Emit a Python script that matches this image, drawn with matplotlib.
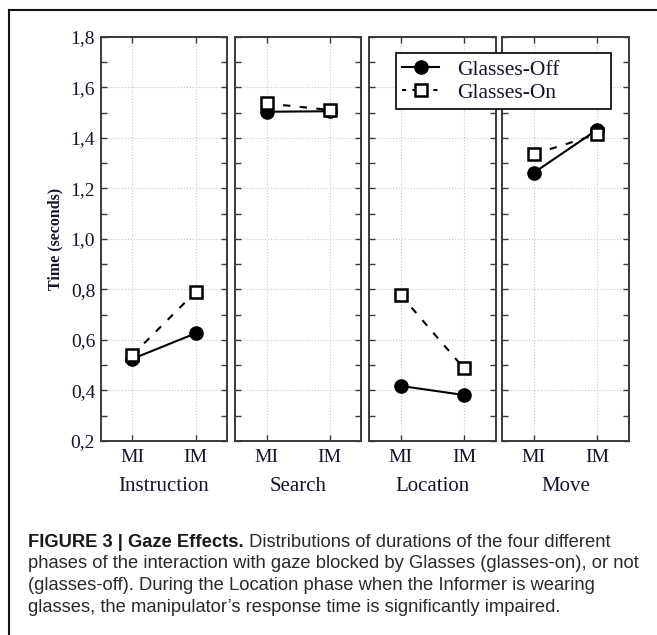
import matplotlib
matplotlib.use('Agg')
import matplotlib.pyplot as plt
from matplotlib.ticker import MultipleLocator, FuncFormatter
from matplotlib.lines import Line2D

plt.rcParams['font.family'] = 'Liberation Serif'

# data
phases = ['Instruction', 'Search', 'Location', 'Move']
conditions = ['MI', 'IM']
glasses_off = [[0.525, 0.626], [1.503, 1.505], [0.418, 0.382], [1.262, 1.432]]
glasses_on = [[0.540, 0.790], [1.536, 1.510], [0.778, 0.488], [1.335, 1.414]]
y_ticks = [0.2, 0.4, 0.6, 0.8, 1.0, 1.2, 1.4, 1.6, 1.8]
series_labels = ['Glasses-Off', 'Glasses-On']
ylabel = 'Time (seconds)'
caption_bold = 'FIGURE 3 | Gaze Effects.'
caption_lines = [
    ' Distributions of durations of the four different',
    'phases of the interaction with gaze blocked by Glasses (glasses-on), or not',
    '(glasses-off). During the Location phase when the Informer is wearing',
    'glasses, the manipulator\u2019s response time is significantly impaired.',
]

W, H = 657, 635
fig = plt.figure(figsize=(W / 100, H / 100), dpi=100)

txt_col = '#15152a'
spine_col = '#3a3a3a'

# panel geometry in pixels
lefts = [100.7, 234.9, 369.0, 502.3]
pw = 126.5
top, bottom = 36.7, 441.0

x = list(range(len(conditions)))
for i, phase in enumerate(phases):
    ax = fig.add_axes([lefts[i] / W, 1 - bottom / H, pw / W, (bottom - top) / H])
    ax.plot(x, glasses_off[i], color='black', lw=1.5, marker='o', ms=9.5,
            mfc='black', mec='black', zorder=3)
    ax.plot(x, glasses_on[i], color='black', lw=1.5, ls=(0, (3.5, 4.5)), marker='s',
            ms=8.5, mfc='white', mec='black', mew=1.8, zorder=4)
    ax.set_xlim(-0.5, 1.5)
    ax.set_ylim(0.2, 1.8)
    ax.set_xticks(x)
    ax.set_xticklabels(conditions, fontsize=14, color=txt_col)
    ax.set_yticks(y_ticks)
    ax.yaxis.set_minor_locator(MultipleLocator(0.1))
    ax.yaxis.set_major_formatter(FuncFormatter(lambda v, p: f'{v:.1f}'.replace('.', ',')))
    ax.grid(True, color='#c8c8c8', ls=':', lw=0.8)
    ax.set_axisbelow(True)
    ax.tick_params(which='both', direction='in', length=4, width=1, color=spine_col,
                   top=True, right=True)
    ax.tick_params(axis='x', pad=6)
    ax.tick_params(axis='y', labelsize=14, labelcolor=txt_col, pad=4)
    if i > 0:
        ax.tick_params(axis='y', labelleft=False)
    for s in ax.spines.values():
        s.set_color(spine_col)
        s.set_linewidth(1.4)
    ax.set_xlabel(phase, fontsize=15, color=txt_col, labelpad=8)

fig.text(55 / W, 1 - 239 / H, ylabel, rotation=90, fontsize=11.5, fontweight='bold',
         ha='center', va='center', color=txt_col)

handles = [
    Line2D([], [], color='black', lw=1.5, marker='o', ms=9.5, mfc='black'),
    Line2D([], [], color='black', lw=1.5, ls=(0, (2, 3)), marker='s', ms=8.5,
           mfc='white', mec='black', mew=1.8),
]
leg = fig.legend(handles, series_labels, loc='upper left', mode='expand',
                 bbox_to_anchor=(396 / W, 1 - 108 / H, 215 / W, 55 / H),
                 bbox_transform=fig.transFigure, fontsize=15.5, frameon=True,
                 fancybox=False, framealpha=1, edgecolor='black', borderpad=0.3,
                 labelspacing=0.15, handlelength=1.7, handletextpad=0.85,
                 borderaxespad=0)
leg.get_frame().set_linewidth(1.2)
for t in leg.get_texts():
    t.set_color(txt_col)

# outer frame: top and left lines only
fig.add_artist(Line2D([9 / W, 1], [1 - 10 / H, 1 - 10 / H], transform=fig.transFigure,
                      color='#111111', lw=1.5))
fig.add_artist(Line2D([9 / W, 9 / W], [1 - 10 / H, 0], transform=fig.transFigure,
                      color='#111111', lw=1.5))

# caption, font size fitted to the widest line
fig.canvas.draw()
r = fig.canvas.get_renderer()
probe = fig.text(0, 0, caption_lines[1], fontsize=11.5, family='Liberation Sans')
cap_fs = 11.5 * 612 / probe.get_window_extent(r).width
probe.remove()

cap_x = 28
baselines = [547, 568.5, 590, 611.5]
b = fig.text(cap_x / W, 1 - baselines[0] / H, caption_bold, fontsize=cap_fs,
             family='Liberation Sans', fontweight='bold', color='#1a1a1a', va='baseline')
bw = b.get_window_extent(r).width
fig.text((cap_x + bw) / W, 1 - baselines[0] / H, caption_lines[0], fontsize=cap_fs,
         family='Liberation Sans', color='#2a2a2a', va='baseline')
for line, yb in zip(caption_lines[1:], baselines[1:]):
    fig.text(cap_x / W, 1 - yb / H, line, fontsize=cap_fs, family='Liberation Sans',
             color='#2a2a2a', va='baseline')

fig.savefig('out.png', dpi=100)
